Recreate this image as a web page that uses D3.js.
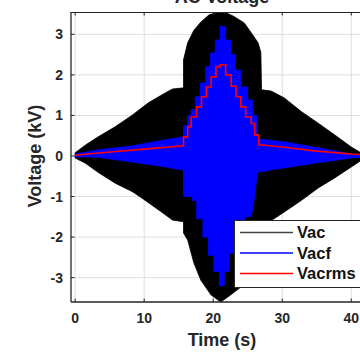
<!DOCTYPE html>
<html>
<head>
<meta charset="utf-8">
<script src="https://cdn.jsdelivr.net/npm/d3@7"></script>
<style>
  body { margin: 0; background: #fff; }
  svg { display: block; }
  text { font-family: "Liberation Sans", Arial, sans-serif; font-weight: bold; fill: #262626; }
</style>
</head>
<body>
<script>
// values: [time (s), voltage (kV)]
var vacUpper = [[0,0.08],[1.5,0.27],[3.3,0.47],[5.8,0.72],[8.3,1.01],[10.6,1.31],[13.1,1.56],[14.1,1.65],[15.7,1.68],
  [15.7,2.37],[16.3,2.79],[17.2,3.1],[18.2,3.3],[19.4,3.48],[21.4,3.57],[23,3.44],[24.5,3.28],[25.5,3.04],[26.5,2.79],[26.9,2.55],
  [27.0,1.63],[28.4,1.6],[30.3,1.43],[32.8,1.09],[35.2,0.81],[37.6,0.52],[40,0.22],[41.5,0.07],[43,0.02]];
var vacLower = [[0,-0.05],[1.5,-0.18],[3.3,-0.4],[5.8,-0.67],[8.3,-0.88],[9.7,-1.04],[12.1,-1.33],[14.1,-1.58],[15.7,-1.62],
  [15.7,-1.9],[16.3,-2.07],[17.2,-2.64],[18.2,-3.06],[19.7,-3.43],[21.1,-3.6],[22.5,-3.43],[24.0,-3.23],[25.5,-3.0],[26.9,-2.6],
  [27.0,-1.75],[28.8,-1.55],[30.3,-1.38],[32.8,-1.09],[35.2,-0.79],[37.6,-0.54],[40,-0.27],[41.5,-0.1],[43,-0.03]];

var vacfUpper = [[0,0.05],[3.3,0.15],[8.3,0.25],[13.1,0.40],[15.7,0.47],[15.7,0.75],[16.3,0.75],[16.3,1.0],[16.8,1.0],
  [16.8,1.14],[17.4,1.14],[17.4,1.46],[18.1,1.46],[18.1,1.8],[18.9,1.8],[18.9,2.2],[19.6,2.2],[19.6,2.54],[20.3,2.54],
  [20.3,2.86],[21.0,2.86],[21.0,3.19],[21.8,3.19],[21.8,2.86],[22.5,2.86],[22.5,2.5],[23.2,2.5],[23.2,2.12],[24.0,2.12],
  [24.0,1.7],[25.0,1.7],[25.0,1.38],[25.7,1.38],[25.7,1.0],[26.4,1.0],[26.4,0.42],[30.3,0.35],[35.2,0.2],[40,0.05],[43,0.02]];
var vacfLower = [[0,-0.02],[3.3,-0.03],[8.3,-0.15],[13.1,-0.27],[15.7,-0.35],[15.7,-1.0],[17.0,-1.0],[17.0,-1.1],[17.6,-1.1],
  [17.6,-1.55],[18.5,-1.55],[18.5,-2.0],[19.3,-2.0],[19.3,-2.45],[20.1,-2.45],[20.1,-2.85],[20.9,-2.85],[20.9,-3.2],[21.6,-3.2],
  [21.6,-2.85],[22.3,-2.85],[22.3,-2.4],[23.0,-2.4],[23.0,-2.0],[23.7,-2.0],[23.7,-1.7],[24.6,-1.7],[24.6,-1.5],[25.5,-1.5],
  [26.0,-1.0],[26.4,-0.4],[30,-0.3],[35,-0.17],[40,-0.05],[43,-0.02]];

var vacrms = [[0,0.02],[5,0.1],[10,0.17],[15.7,0.25],[15.7,0.47],[16.3,0.47],[16.3,0.72],[16.8,0.72],[16.8,0.96],[17.6,0.96],
  [17.6,1.21],[18.3,1.21],[18.3,1.46],[19.0,1.46],[19.0,1.70],[19.7,1.70],[19.7,1.95],[20.4,1.95],[20.4,2.2],[21.0,2.2],
  [21.0,2.25],[21.8,2.25],[21.8,2.0],[22.6,2.0],[22.6,1.72],[23.3,1.72],[23.3,1.46],[24.0,1.46],[24.0,1.21],[24.7,1.21],
  [24.7,0.96],[25.5,0.96],[25.5,0.8],[26.0,0.8],[26.0,0.52],[26.6,0.52],[26.6,0.27],[27.1,0.27],[30,0.22],[35,0.12],[40,0.05],[43,0.02]];

var xTicks = [0, 10, 20, 30, 40];
var yTicks = [-3, -2, -1, 0, 1, 2, 3];
var seriesNames = ["Vac", "Vacf", "Vacrms"];
var seriesColors = ["#444444", "#0000ff", "#ff0000"];

var width = 360, height = 354;
var plotLeft = 71, plotTop = 12, plotBottom = 302, plotRight = 372;

var x = d3.scaleLinear().domain([-0.6, 43]).range([plotLeft, plotRight]);
var y = d3.scaleLinear().domain([-3.6, 3.55]).range([plotBottom, plotTop]);

var svg = d3.select("body").append("svg")
  .attr("width", width)
  .attr("height", height);

svg.append("clipPath").attr("id", "clip")
  .append("rect").attr("x", plotLeft).attr("y", plotTop)
  .attr("width", plotRight - plotLeft).attr("height", plotBottom - plotTop);

// grid
var grid = svg.append("g").attr("stroke", "#dedede").attr("stroke-width", 1);
grid.selectAll(".gx").data(xTicks).enter().append("line")
  .attr("x1", function(d) { return x(d); }).attr("x2", function(d) { return x(d); })
  .attr("y1", plotTop).attr("y2", plotBottom);
grid.selectAll(".gy").data(yTicks).enter().append("line")
  .attr("x1", plotLeft).attr("x2", plotRight)
  .attr("y1", function(d) { return y(d); }).attr("y2", function(d) { return y(d); });

var line = d3.line()
  .x(function(d) { return x(d[0]); })
  .y(function(d) { return y(d[1]); });

function envelope(upper, lower) {
  return line(upper.concat(lower.slice().reverse())) + "Z";
}

var plot = svg.append("g").attr("clip-path", "url(#clip)");

plot.append("path")
  .attr("d", envelope(vacUpper, vacLower))
  .attr("fill", "#000")
  .attr("stroke", "#000")
  .attr("stroke-width", 0.8);

plot.append("path")
  .attr("d", envelope(vacfUpper, vacfLower))
  .attr("fill", "#0000ff")
  .attr("stroke", "#0000ff")
  .attr("stroke-width", 0.8);

plot.append("path")
  .attr("d", line(vacrms))
  .attr("fill", "none")
  .attr("stroke", "#ff0000")
  .attr("stroke-width", 1.6);

// axes box
svg.append("line").attr("x1", plotLeft).attr("x2", plotRight).attr("y1", plotTop + 0.5).attr("y2", plotTop + 0.5)
  .attr("stroke", "#262626").attr("stroke-width", 1);
svg.append("line").attr("x1", plotLeft).attr("x2", plotRight).attr("y1", plotBottom).attr("y2", plotBottom)
  .attr("stroke", "#262626").attr("stroke-width", 1.3);
svg.append("line").attr("x1", plotLeft).attr("x2", plotLeft).attr("y1", plotTop).attr("y2", plotBottom)
  .attr("stroke", "#262626").attr("stroke-width", 1.3);

// ticks (inside) and labels
var ticks = svg.append("g").attr("stroke", "#262626").attr("stroke-width", 1);
ticks.selectAll(".tx").data(xTicks).enter().append("line")
  .attr("x1", function(d) { return x(d); }).attr("x2", function(d) { return x(d); })
  .attr("y1", plotBottom).attr("y2", plotBottom - 3.5);
ticks.selectAll(".tx2").data(xTicks).enter().append("line")
  .attr("x1", function(d) { return x(d); }).attr("x2", function(d) { return x(d); })
  .attr("y1", plotTop).attr("y2", plotTop + 3.5);
ticks.selectAll(".ty").data(yTicks).enter().append("line")
  .attr("x1", plotLeft).attr("x2", plotLeft + 3.5)
  .attr("y1", function(d) { return y(d); }).attr("y2", function(d) { return y(d); });

svg.selectAll(".xl").data(xTicks).enter().append("text")
  .attr("x", function(d) { return x(d); })
  .attr("y", 323)
  .attr("text-anchor", "middle")
  .style("font-size", "14px")
  .text(function(d) { return d; });

svg.selectAll(".yl").data(yTicks).enter().append("text")
  .attr("x", 63)
  .attr("y", function(d) { return y(d); })
  .attr("dy", "0.36em")
  .attr("text-anchor", "end")
  .style("font-size", "14px")
  .text(function(d) { return d; });

svg.append("text")
  .attr("x", 222).attr("y", 346)
  .attr("text-anchor", "middle")
  .style("font-size", "18px")
  .text("Time (s)");

svg.append("text")
  .attr("transform", "translate(41,156) rotate(-90)")
  .attr("text-anchor", "middle")
  .style("font-size", "18px")
  .text("Voltage (kV)");

svg.append("text")
  .attr("x", 222).attr("y", 3)
  .attr("text-anchor", "middle")
  .style("font-size", "18px")
  .text("AC Voltage");

// legend
var legend = svg.append("g");
legend.append("rect")
  .attr("x", 234.5).attr("y", 220.5).attr("width", 140).attr("height", 67)
  .attr("fill", "#fff").attr("stroke", "#262626").attr("stroke-width", 1);
var items = legend.selectAll(".li").data(seriesNames).enter().append("g")
  .attr("transform", function(d, i) { return "translate(0," + (232.5 + i * 20.5) + ")"; });
items.append("line")
  .attr("x1", 240).attr("x2", 293).attr("y1", 0).attr("y2", 0)
  .attr("stroke", function(d, i) { return seriesColors[i]; })
  .attr("stroke-width", 1.3);
items.append("text")
  .attr("x", 297).attr("y", 0).attr("dy", "0.36em")
  .style("font-size", "16.5px")
  .style("fill", "#111")
  .text(function(d) { return d; });
</script>
</body>
</html>
